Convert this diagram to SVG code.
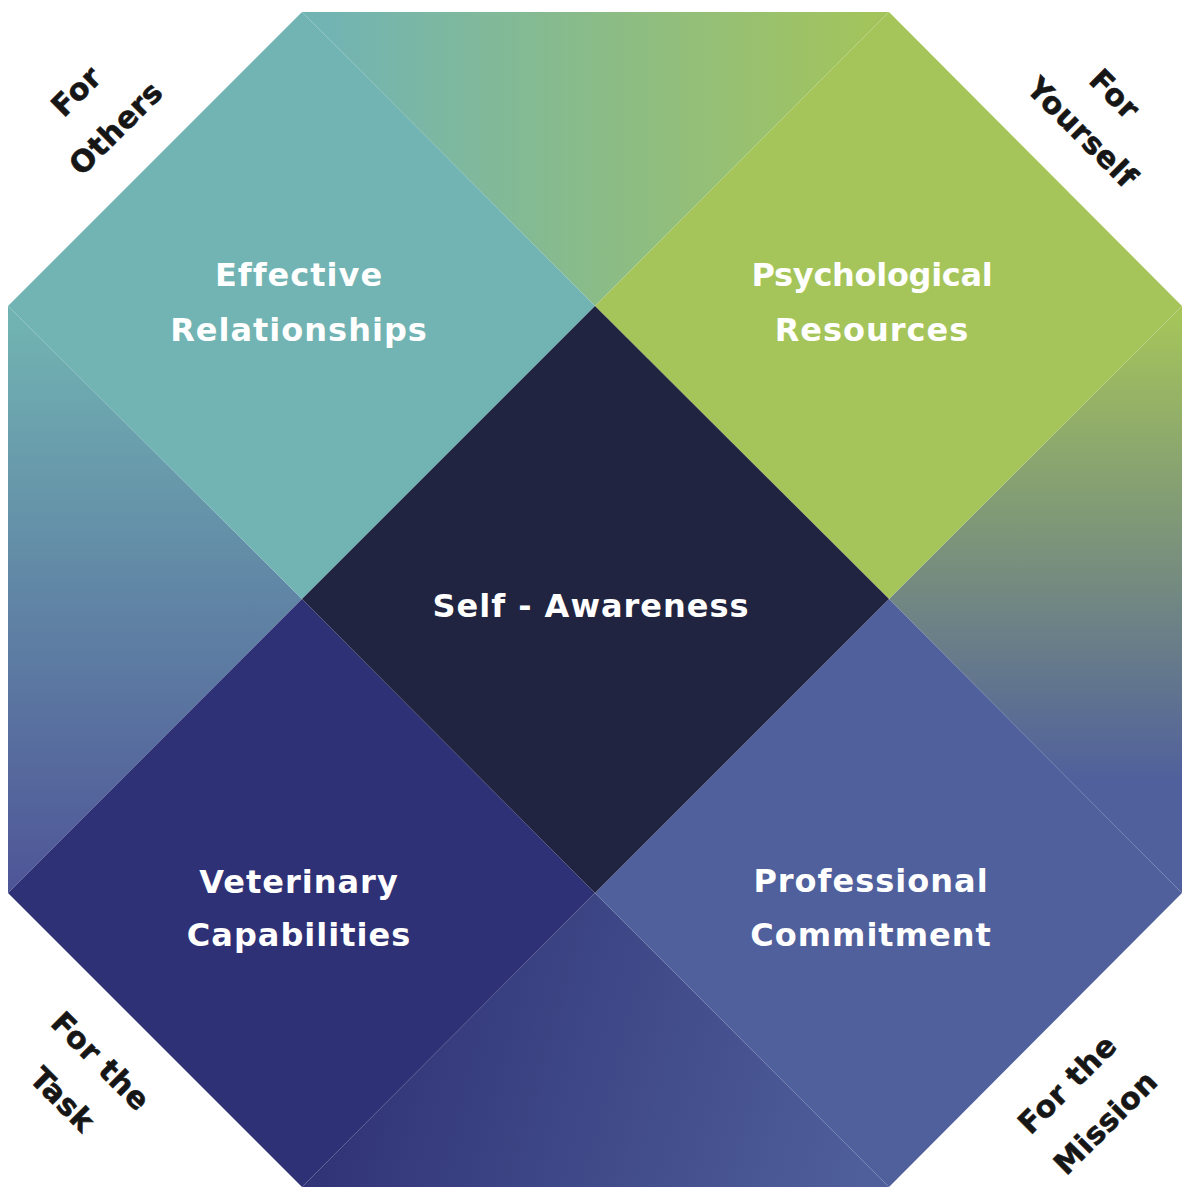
<svg xmlns="http://www.w3.org/2000/svg" width="1193" height="1200" viewBox="0 0 1193 1200">
<style>
.lbl{font-family:"DejaVu Sans","Liberation Sans",sans-serif;font-weight:bold;font-size:32px;fill:#ffffff;text-anchor:middle;letter-spacing:1px}
.tight{letter-spacing:-0.3px}
.corner{font-family:"DejaVu Sans","Liberation Sans",sans-serif;font-weight:bold;font-size:30px;fill:#161616;stroke:#161616;stroke-width:0.6px;text-anchor:middle;letter-spacing:0.5px}
</style>
<defs>
<linearGradient id="gTop" gradientUnits="userSpaceOnUse" x1="330" y1="0" x2="870" y2="0">
<stop offset="0" stop-color="#72b4b3"/><stop offset="1" stop-color="#a3c45c"/>
</linearGradient>
<linearGradient id="gLeft" gradientUnits="userSpaceOnUse" x1="0" y1="320" x2="0" y2="885">
<stop offset="0" stop-color="#71b3b2"/><stop offset="1" stop-color="#4f5698"/>
</linearGradient>
<linearGradient id="gRight" gradientUnits="userSpaceOnUse" x1="0" y1="315" x2="0" y2="780">
<stop offset="0" stop-color="#a5c55a"/><stop offset="1" stop-color="#50609c"/>
</linearGradient>
<linearGradient id="gBottom" gradientUnits="userSpaceOnUse" x1="330" y1="1000" x2="870" y2="1150">
<stop offset="0" stop-color="#2f3275"/><stop offset="1" stop-color="#4f5f9b"/>
</linearGradient>
</defs>
<rect width="1193" height="1200" fill="#ffffff"/>
<g id="fill-triangles">
<polygon points="302,12 889,12 595,306" fill="url(#gTop)"/>
<polygon points="8,306 302,599 8,893" fill="url(#gLeft)"/>
<polygon points="1182,306 889,599 1182,893" fill="url(#gRight)"/>
<polygon points="302,1187 595,893 889,1187" fill="url(#gBottom)"/>
</g>
<g id="effective-relationships">
<polygon points="8,306 302,12 595,306 302,599" fill="#71b4b3"/>
<text class="lbl" x="299" y="286">Effective</text>
<text class="lbl" x="299" y="341">Relationships</text>
</g>
<g id="psychological-resources">
<polygon points="595,306 889,12 1182,306 889,599" fill="#a5c55a"/>
<text class="lbl tight" x="872" y="286">Psychological</text>
<text class="lbl" x="872" y="341">Resources</text>
</g>
<g id="veterinary-capabilities">
<polygon points="8,893 302,599 595,893 302,1187" fill="#2e3175"/>
<text class="lbl" x="299" y="893">Veterinary</text>
<text class="lbl" x="299" y="946">Capabilities</text>
</g>
<g id="professional-commitment">
<polygon points="595,893 889,599 1182,893 889,1187" fill="#50609c"/>
<text class="lbl" x="871" y="892">Professional</text>
<text class="lbl" x="871" y="946">Commitment</text>
</g>
<g id="self-awareness">
<polygon points="595,306 889,599 595,893 302,599" fill="#212440"/>
<text class="lbl" x="591" y="617">Self - Awareness</text>
</g>
<g id="for-others" transform="translate(95,110) rotate(-45)">
<text class="corner" x="0" y="-16">For</text>
<text class="corner" x="2" y="38">Others</text>
</g>
<g id="for-yourself" transform="translate(1099,113) rotate(45)">
<text class="corner" x="-2" y="-14">For</text>
<text class="corner" x="2" y="36">Yourself</text>
</g>
<g id="for-the-task" transform="translate(82,1080) rotate(45)">
<text class="corner" x="0" y="-16">For the</text>
<text class="corner" x="0" y="38">Task</text>
</g>
<g id="for-the-mission" transform="translate(1086,1103) rotate(-45)">
<text class="corner" x="0" y="-16">For the</text>
<text class="corner" x="0" y="38">Mission</text>
</g>
<g id="connectors"/>
</svg>
